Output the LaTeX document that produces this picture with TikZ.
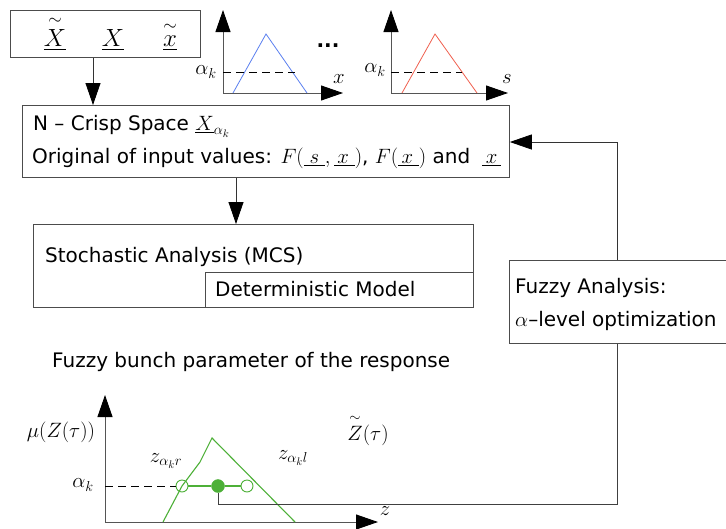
\documentclass[tikz,border=0pt]{standalone}
\usepackage{amsmath}
\usepackage[no-math]{fontspec}
\setmainfont{DejaVu Sans}
\usetikzlibrary{arrows.meta}
\definecolor{fzblue}{HTML}{5B80F0}
\definecolor{fzred}{HTML}{F0604F}
\definecolor{fzgreen}{HTML}{4DB038}
\definecolor{axgray}{HTML}{555555}
\newcommand\mymath[1]{{\fontsize{22}{24}\selectfont$#1$}}
\begin{document}
\begin{tikzpicture}[x=1pt,y=-1pt,
  font=\fontsize{20}{24}\selectfont,
  box/.style={draw=black!70, line width=0.8pt, rectangle, inner sep=0pt, anchor=north west},
  txt/.style={anchor=base west, inner sep=0pt},
  lbl/.style={inner sep=0pt, font=\fontsize{22}{24}\selectfont},
  biglbl/.style={anchor=base, inner sep=0pt, font=\fontsize{24}{26}\selectfont},
  flow/.style={draw=black!80, line width=0.8pt, -{Triangle[length=22pt,width=15pt,color=black]}},
  axis/.style={draw=axgray, line width=0.9pt, -{Triangle[length=22pt,width=15pt,color=black]}},
  dline/.style={draw=black, line width=0.7pt, dash pattern=on 8pt off 5pt},
  ocirc/.style={circle, draw=fzgreen, line width=0.9pt, minimum size=12pt, inner sep=0pt},
  fcirc/.style={circle, draw=fzgreen, fill=fzgreen, minimum size=13pt, inner sep=0pt}]
\useasboundingbox[fill=white] (0,0) rectangle (726,528);

% input box
\node[box, minimum width=190pt, minimum height=47pt] (inp) at (10,10) {};
\node[biglbl] (i1) at (55,46) {$\underline{\overset{\sim}{X}}$};
\node[biglbl] (i2) at (113,46) {$\underline{X}$};
\node[biglbl] (i3) at (170,46) {$\underline{\overset{\sim}{x}}$};

% crisp space box
\node[box, minimum width=487pt, minimum height=72pt] (crisp) at (22,105) {};
\node[txt] (c1) at (33,130) {N – Crisp Space \mymath{\underline{X}_{\alpha_k}}};
\node[txt] (c2) at (32,163) {Original of input values: \mymath{F(\underline{\;s\;},\underline{\,x\;})}, \mymath{F(\underline{\,x\;})} and \mymath{\;\underline{\,x\,}}};

% stochastic box
\node[box, minimum width=440pt, minimum height=83pt] (stoch) at (33,224) {};
\node[box, minimum width=268pt, minimum height=35pt] (det) at (205,272) {};
\node[txt] (s1) at (45,262) {Stochastic Analysis (MCS)};
\node[txt] (d1) at (215,296) {Deterministic Model};

% fuzzy analysis box (open to the right)
\node[box, draw=none, minimum width=217pt, minimum height=83pt] (fz) at (509,260) {};
\draw[black!70, line width=0.8pt] (fz.north east) -- (fz.north west) -- (fz.south west) -- (fz.south east);
\node[txt] (f1) at (515,293) {Fuzzy Analysis:};
\node[txt] (f2) at (515,326) {\mymath{\alpha}--level optimization};

\node[txt] (fb) at (52,367) {Fuzzy bunch parameter of the response};

% flow arrows
\draw[flow] (inp.south -| 93,0) -- (crisp.north -| 93,0);
\draw[flow] (crisp.south -| 236,0) -- (stoch.north -| 236,0);
\coordinate (fbk1) at (617,142);
\draw[flow] (fz.north -| fbk1) -- (fbk1) -- (crisp.east |- fbk1);

% top plot 1
\coordinate (o1) at (223,93);
\draw[axis] (o1) -- (223,10);
\draw[axis] (o1) -- (343,93);
\draw[fzblue, line width=0.8pt] (233,93) -- (266,34) -- (307,93);
\draw[dline] (o1 |- 0,72) -- (295,72);
\node[lbl] (a1) at (206,72) {$\alpha_k$};
\node[lbl] (x1) at (339,79) {$x$};
\node[anchor=base, inner sep=0pt, font=\fontsize{20}{24}\selectfont\bfseries] (dots) at (328,47) {...};

% top plot 2
\coordinate (o2) at (391,93);
\draw[axis] (o2) -- (391,10);
\draw[axis] (o2) -- (508,93);
\draw[fzred, line width=0.8pt] (402,93) -- (435,34) -- (477,93);
\draw[dline] (o2 |- 0,72) -- (462,72);
\node[lbl] (a2) at (375,70) {$\alpha_k$};
\node[lbl] (s2) at (507,79) {$s$};

% bottom plot
\coordinate (o3) at (105,522);
\draw[axis] (o3) -- (105,395);
\draw[axis] (o3) -- (378,522);
\node[lbl] (zl) at (385,511) {$z$};
\node[lbl] (mu) at (61,432) {$\mu(Z(\tau))$};
\node[lbl] (zt) at (368,430) {$\overset{\sim}{Z}(\tau)$};
\node[lbl] (ak) at (83,485) {$\alpha_k$};
\node[lbl] (zr) at (166,461) {$z_{\alpha_k r}$};
\node[lbl] (zlb) at (293,458) {$z_{\alpha_k l}$};
\draw[fzgreen, line width=1.1pt] (163,522) -- (182,486) -- (200,462) -- (212,438) -- (295,522);
\node[ocirc] (cl) at (182,486) {};
\node[ocirc] (cr) at (247,486) {};
\node[fcirc] (cm) at (218,486) {};
\draw[fzgreen, line width=2.2pt] (cl) -- (cm) -- (cr);
\draw[dline] (o3 |- cl) -- (cl.west);
\coordinate (fbk2) at (617,504);
\draw[black!75, line width=0.8pt] (fz.south -| fbk2) -- (fbk2) -- (cm |- fbk2) -- (cm);
\end{tikzpicture}
\end{document}
